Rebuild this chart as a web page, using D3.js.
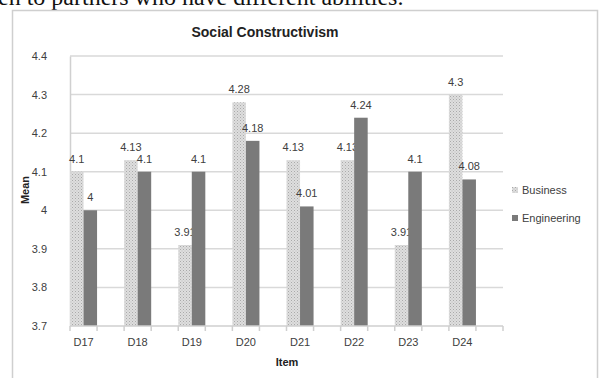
<!DOCTYPE html>
<html>
<head>
  <script src="https://d3js.org/d3.v7.min.js"></script>
  <style>
    body { margin: 0; background: #fff; }
    svg text { font-family: "Liberation Sans", Arial, sans-serif; }
  </style>
</head>
<body>
  <svg id="chart"></svg>
  <script>
    var items = ["D17", "D18", "D19", "D20", "D21", "D22", "D23", "D24"];
    var business = [4.1, 4.13, 3.91, 4.28, 4.13, 4.13, 3.91, 4.3];
    var engineering = [4, 4.1, 4.1, 4.18, 4.01, 4.24, 4.1, 4.08];
    var yTicks = [3.7, 3.8, 3.9, 4, 4.1, 4.2, 4.3, 4.4];
    var seriesNames = ["Business", "Engineering"];

    var width = 601, height = 378;
    var svg = d3.select("#chart").attr("width", width).attr("height", height);

    var defs = svg.append("defs");
    var pat = defs.append("pattern")
      .attr("id", "hatch")
      .attr("patternUnits", "userSpaceOnUse")
      .attr("width", 3).attr("height", 3);
    pat.append("rect").attr("width", 3).attr("height", 3).attr("fill", "#dedede");
    pat.append("rect").attr("x", 0).attr("y", 0).attr("width", 1).attr("height", 1).attr("fill", "#aaaaaa");
    pat.append("rect").attr("x", 1.5).attr("y", 1.5).attr("width", 1).attr("height", 1).attr("fill", "#bbbbbb");

    // text of the page above the chart, cut off by the crop
    svg.append("text")
      .attr("x", -2).attr("y", 5)
      .style("font-family", "'Liberation Serif', 'Times New Roman', serif")
      .style("font-size", "24px")
      .attr("fill", "#111")
      .text("en to partners who have different abilities.");

    // chart frame
    svg.append("rect")
      .attr("x", 12.5).attr("y", 10.5)
      .attr("width", 585).attr("height", 380)
      .attr("fill", "#fff").attr("stroke", "#cfcfcf").attr("stroke-width", 1.5);

    var plotLeft = 70, plotRight = 503, plotTop = 56, plotBottom = 326;

    var x = d3.scaleBand().domain(items).range([plotLeft, plotRight]).paddingInner(0).paddingOuter(0);
    var y = d3.scaleLinear().domain([3.7, 4.4]).range([plotBottom, plotTop]);
    var barW = x.bandwidth() / 4;

    // gridlines
    svg.append("g").selectAll("line")
      .data(yTicks.slice(1))
      .enter().append("line")
      .attr("x1", plotLeft).attr("x2", plotRight)
      .attr("y1", d => y(d)).attr("y2", d => y(d))
      .attr("stroke", "#d9d9d9").attr("stroke-width", 1.5);

    // y axis
    var yAxis = svg.append("g")
      .attr("transform", "translate(" + plotLeft + ",0)")
      .call(d3.axisLeft(y).tickValues(yTicks).tickSize(0).tickPadding(23).tickFormat(d3.format("")));
    yAxis.select(".domain").attr("stroke", "#d0d0d0").attr("stroke-width", 1.5);
    yAxis.selectAll("text").style("font-size", "11px").attr("fill", "#404040");

    // bars
    var groups = [business, engineering];
    var fills = ["url(#hatch)", "#7a7a7a"];
    groups.forEach(function(vals, s) {
      svg.append("g").selectAll("rect")
        .data(vals)
        .enter().append("rect")
        .attr("x", (d, i) => x(items[i]) + s * barW)
        .attr("y", d => y(d))
        .attr("width", barW)
        .attr("height", d => y(3.7) - y(d))
        .attr("fill", fills[s]);

      svg.append("g").selectAll("text")
        .data(vals)
        .enter().append("text")
        .attr("x", (d, i) => x(items[i]) + s * barW + barW / 2)
        .attr("y", d => y(d) - 9)
        .attr("text-anchor", "middle")
        .style("font-size", "11px")
        .attr("fill", "#404040")
        .text(d => d);
    });

    // x axis
    var halfTicks = d3.range(items.length * 2 + 1).map(i => plotLeft + i * x.bandwidth() / 2);
    svg.append("line")
      .attr("x1", plotLeft).attr("x2", plotRight)
      .attr("y1", plotBottom).attr("y2", plotBottom)
      .attr("stroke", "#cfcfcf").attr("stroke-width", 1.5);
    svg.append("g").selectAll("line")
      .data(halfTicks)
      .enter().append("line")
      .attr("x1", d => d).attr("x2", d => d)
      .attr("y1", plotBottom).attr("y2", plotBottom + 5)
      .attr("stroke", "#cfcfcf").attr("stroke-width", 1.5);
    svg.append("g").selectAll("text")
      .data(items)
      .enter().append("text")
      .attr("x", d => x(d) + barW)
      .attr("y", plotBottom + 20)
      .attr("text-anchor", "middle")
      .style("font-size", "11px")
      .attr("fill", "#404040")
      .text(d => d);

    // titles
    svg.append("text")
      .attr("x", 265).attr("y", 37)
      .attr("text-anchor", "middle")
      .style("font-size", "14px").style("font-weight", "bold")
      .attr("fill", "#222")
      .text("Social Constructivism");

    svg.append("text")
      .attr("transform", "translate(29,190) rotate(-90)")
      .attr("text-anchor", "middle")
      .style("font-size", "11px").style("font-weight", "bold")
      .attr("fill", "#222")
      .text("Mean");

    svg.append("text")
      .attr("x", 287).attr("y", 366)
      .attr("text-anchor", "middle")
      .style("font-size", "11px").style("font-weight", "bold")
      .attr("fill", "#222")
      .text("Item");

    // legend
    var legend = svg.append("g").selectAll("g")
      .data(seriesNames)
      .enter().append("g")
      .attr("transform", (d, i) => "translate(512," + (190 + i * 28) + ")");
    legend.append("rect")
      .attr("x", 0).attr("y", -3).attr("width", 6).attr("height", 6)
      .attr("fill", (d, i) => fills[i]);
    legend.append("text")
      .attr("x", 10).attr("y", 4)
      .style("font-size", "11px")
      .attr("fill", "#404040")
      .text(d => d);
  </script>
</body>
</html>
